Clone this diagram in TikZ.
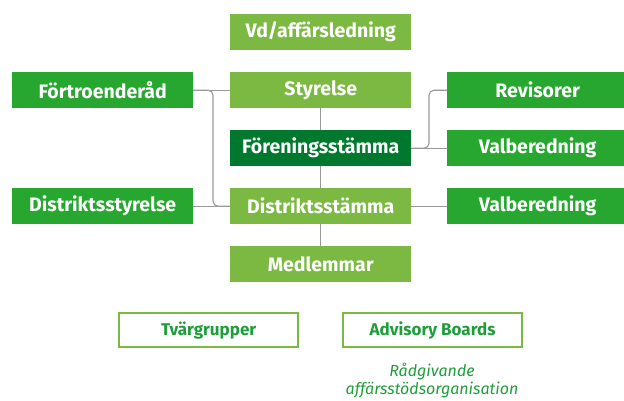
\documentclass[tikz,border=0pt]{standalone}
\usepackage{fontspec}
\setmainfont{Fira Sans}
\definecolor{lgreen}{HTML}{7CB943}
\definecolor{mgreen}{HTML}{27A72F}
\definecolor{dgreen}{HTML}{00782D}
\definecolor{tgreen}{HTML}{1E9E3A}
\definecolor{lineg}{HTML}{999999}
\tikzset{
  box/.style={minimum width=181pt, minimum height=36pt, inner sep=0pt, text=white, font=\fontsize{19.5}{22}\selectfont\bfseries, anchor=north west},
  lbox/.style={box, fill=lgreen},
  mbox/.style={box, fill=mgreen},
  dbox/.style={box, fill=dgreen},
  obox/.style={box, draw=lgreen, line width=2.2pt, minimum width=179pt, minimum height=34pt, text=tgreen, font=\fontsize{17}{20}\selectfont\bfseries},
  conn/.style={draw=lineg, line width=1.1pt, rounded corners=5pt}
}
\begin{document}
\begin{tikzpicture}[x=1pt,y=-1pt]
\useasboundingbox (0,0) rectangle (624,400);
\node[lbox] (vd) at (230,14) {Vd/affärsledning};
\node[lbox] (sty) at (230,72) {Styrelse};
\node[dbox] (fs) at (230,130) {Föreningsstämma};
\node[lbox] (ds) at (230,188) {Distriktsstämma};
\node[lbox] (med) at (230,246) {Medlemmar};
\node[mbox] (fr) at (12,72) {Förtroenderåd};
\node[mbox] (dst) at (12,188) {Distriktsstyrelse};
\node[mbox] (rev) at (447,72) {Revisorer};
\node[mbox] (vb1) at (447,130) {Valberedning};
\node[mbox] (vb2) at (447,188) {Valberedning};
\node[obox] (tv) at (118,312) {Tvärgrupper};
\node[obox] (ab) at (342,312) {Advisory Boards};
\node[text=tgreen, font=\fontsize{16}{18}\selectfont\itshape, align=center] (rg) at (432,381) {Rådgivande\\affärsstödsorganisation};
\coordinate (lx) at (213,0);
\coordinate (rx) at (429,0);
\draw[conn] (sty) -- (fs);
\draw[conn] (fs) -- (ds);
\draw[conn] (ds) -- (med);
\draw[conn] (fr.east) -- (sty.west);
\draw[conn] (fr.east) -| (lx |- ds.west) -- (ds.west);
\draw[conn] (dst.east) -- (ds.west);
\draw[conn] (fs.east) -- (vb1.west);
\draw[conn] (fs.east) -| (rx |- rev.west) -- (rev.west);
\draw[conn] (ds.east) -- (vb2.west);
\end{tikzpicture}
\end{document}
